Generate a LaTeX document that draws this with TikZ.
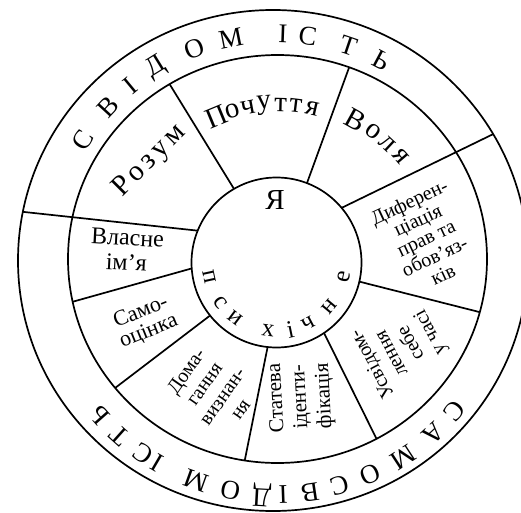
\documentclass[tikz,border=0pt]{standalone}
\usepackage{fontspec}
\setmainfont{Liberation Serif}
\usetikzlibrary{calc}
\begin{document}
\begin{tikzpicture}[x=1pt,y=1pt,line width=1.7pt,
  ringletter/.style={inner sep=0pt,font=\fontsize{27}{27}\selectfont},
  bigletter/.style={inner sep=0pt,font=\fontsize{29}{29}\selectfont},
  psyletter/.style={inner sep=0pt,font=\fontsize{25}{25}\selectfont},
  block/.style={inner sep=0pt,align=center,font=\fontsize{21}{21}\selectfont}]
\useasboundingbox (0,0) rectangle (521,512);
\clip (0,0) rectangle (521,512);
\fill[white] (0,0) rectangle (521,512);
\coordinate (O1) at (273,251.5);
\coordinate (O2) at (277.5,253);
\coordinate (O3) at (276.5,249.5);
\coordinate (Oc) at (275,251);
% circles
\draw (O1) ellipse [x radius=255, y radius=250.5];
\draw (O2) ellipse [x radius=209.5, y radius=204];
\draw (O3) circle [radius=85];
% dividers to middle circle
\foreach \a/\t in {120/121, 69/70, 184/192.1, 218.6/219.2, 264/261, 304/298.2, 347/344.9}
  \draw ($(O3)+(\a:85)$) -- ($(O2)+(\t:209.5 and 204)$);
% dividers to outer circle
\foreach \a/\t in {40/30.3, 158/168.8}
  \draw ($(O3)+(\a:85)$) -- ($(O1)+(\t:255 and 250.5)$);
% outer ring text
\foreach \a/\ch in {147.9/С,137.3/В,129.6/І,121.7/Д,110.8/О,101.2/М,88/І,81.7/С,71.2/Т,62/Ь}
  \node[ringletter,rotate=\a-90] at ($(Oc)+(\a:227)$) {\ch};
\foreach \a/\ch in {320.1/С,312.6/А,303.1/М,294.1/О,286/С,278.6/В,272/І,266.8/Д,259/О,250.2/М,239.7/І,235.6/С,228.2/Т,221.4/Ь}
  \node[ringletter,rotate=\a-90] at ($(Oc)+(\a:234)$) {\ch};
% inner circle text
\node[bigletter] (ya) at (275,312) {Я};
\foreach \a/\ch in {192.3/п,216/с,232.9/и,263/х,281.6/і,297.9/ч,320.2/н,348/е}
  \node[psyletter,rotate=\a+90] at ($(O3)+(\a:69)$) {\ch};
% sector texts
\foreach \a/\ch in {112.5/П,106/о,100.5/ч,94.5/у,88.5/т,83/т,77/я}
  \node[bigletter,rotate=\a-90] at ($(O3)+(\a:158)$) {\ch};
\foreach \a/\ch in {61/В,53.5/о,47/л,40.5/я}
  \node[bigletter,rotate=\a-90] at ($(O3)+(\a:163)$) {\ch};
\node[bigletter,rotate=45] (rozum) at (150,351) {\addfontfeature{LetterSpace=15}Розум};
\node[block,font=\fontsize{24}{25}\selectfont,rotate=-3] (vlasne) at (127,262) {Власне\\ім’я};
\node[block,font=\fontsize{22}{21}\selectfont,rotate=22] (samo) at (145,190) {Само-\\оцінка};
\node[block,font=\fontsize{20}{22}\selectfont,rotate=55] (doma) at (213,122) {Дома-\\гання\\визнан-\\ня};
\node[block,font=\fontsize{21}{24}\selectfont,rotate=93] (stat) at (301,115) {Статева\\іденти-\\фікація};
\node[block,font=\fontsize{20}{22}\selectfont,rotate=118] (usv) at (402,164) {Усвідом-\\лення\\себе\\у часі};
\node[block,font=\fontsize{20}{20}\selectfont,rotate=25] (dyf) at (426,274) {Диферен-\\ціація\\прав та\\обов’яз-\\ків};
\end{tikzpicture}
\end{document}
